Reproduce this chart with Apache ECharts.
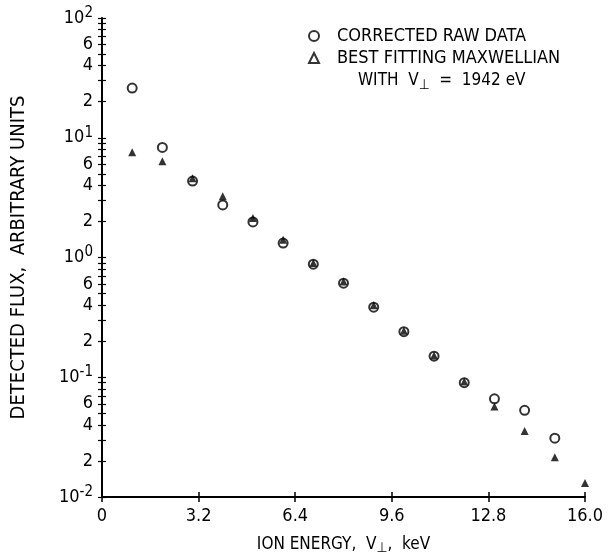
<!DOCTYPE html>
<html>
<head>
<meta charset="utf-8">
<script src="https://cdn.jsdelivr.net/npm/echarts@6/dist/echarts.min.js"></script>
<style>
  html, body { margin: 0; padding: 0; background: #fff; }
  #main { width: 609px; height: 557px; }
</style>
</head>
<body>
<div id="main"></div>
<script>
// ion energy (keV)
var energy = [1, 2, 3, 4, 5, 6, 7, 8, 9, 10, 11, 12, 13, 14, 15, 16];
// corrected raw data (circles), no point at 16 keV
var rawData = [26, 8.3, 4.35, 2.75, 1.98, 1.32, 0.88, 0.61, 0.385, 0.24, 0.15, 0.09, 0.066, 0.053, 0.031];
// best fitting maxwellian (triangles)
var fitData = [7.55, 6.35, 4.6, 3.24, 2.14, 1.41, 0.9, 0.63, 0.4, 0.245, 0.152, 0.092, 0.057, 0.0355, 0.0215, 0.0131];
// y tick positions and labelled ones
var yTicks = [];
[0.01, 0.1, 1, 10].forEach(function (d) {
    for (var k = 1; k < 10; k++) yTicks.push(+(d * k).toPrecision(3));
});
yTicks.push(100);
var yLabels = yTicks.filter(function (v) {
    var m = Math.round(v / Math.pow(10, Math.floor(Math.log10(v) + 1e-9)));
    return m === 1 || m === 2 || m === 4 || m === 6;
});

var font = "'DejaVu Sans Condensed', 'Liberation Sans Narrow', sans-serif";

function pair(arr) {
    return arr.map(function (v, i) { return [energy[i], v]; });
}

function yFmt(v) {
    var e = Math.floor(Math.log10(v) + 1e-9);
    var m = Math.round(v / Math.pow(10, e));
    if (m === 1) return '10{sup|' + e + '}';
    return '' + m;
}

var dom = document.getElementById('main');
var myChart = echarts.init(dom);
var option = {
    backgroundColor: '#fff',
    animation: false,
    textStyle: { fontFamily: font, color: '#000' },
    grid: { left: 102, right: 24, top: 18, bottom: 60, outerBoundsMode: 'none', containLabel: false },
    title: {
        text: 'WITH  V{sub|⊥}  =  1942 eV',
        left: 353,
        top: 64,
        textStyle: {
            fontFamily: font, fontSize: 17, fontWeight: 'normal', color: '#000',
            rich: { sub: { fontFamily: font, fontSize: 14, padding: [9, 0, 0, 0] } }
        }
    },
    legend: {
        orient: 'vertical',
        left: 303,
        top: 21,
        itemWidth: 10,
        itemHeight: 10,
        itemGap: 2,
        selectedMode: false,
        textStyle: { fontFamily: font, fontSize: 18, color: '#000', lineHeight: 20, padding: [0, 0, 0, 13] },
        data: [
            { name: 'CORRECTED RAW DATA', icon: 'emptyCircle', itemStyle: { color: '#000', borderColor: '#000', borderWidth: 1.5 } },
            { name: 'BEST FITTING MAXWELLIAN', icon: 'emptyTriangle', itemStyle: { color: '#000', borderColor: '#000', borderWidth: 1.5 } }
        ]
    },
    xAxis: [{
        type: 'value',
        min: 0,
        max: 16,
        interval: 3.2,
        name: 'ION ENERGY,  V{sub|⊥},  keV',
        nameLocation: 'middle',
        nameGap: 38,
        nameTextStyle: {
            fontFamily: font, fontSize: 17, color: '#000',
            rich: { sub: { fontFamily: font, fontSize: 14, padding: [6, 0, 0, 0] } }
        },
        splitLine: { show: false },
        axisLine: { lineStyle: { color: '#000', width: 2 } },
        axisTick: { length: 5, lineStyle: { color: '#000', width: 1.5 } },
        axisLabel: {
            fontFamily: font, fontSize: 18, color: '#000', margin: 10,
            formatter: function (v) { return v === 0 ? '0' : v.toFixed(1); }
        }
    }, {
        type: 'value',
        min: 0,
        max: 16,
        interval: 3.2,
        position: 'bottom',
        splitLine: { show: false },
        axisLine: { show: false },
        axisTick: { inside: true, length: 5, lineStyle: { color: '#000', width: 1.5 } },
        axisLabel: { show: false }
    }],
    yAxis: [{
        type: 'log',
        logBase: 10,
        min: 0.01,
        max: 100,
        name: 'DETECTED FLUX,  ARBITRARY UNITS',
        nameLocation: 'middle',
        nameGap: 73,
        nameTextStyle: { fontFamily: font, fontSize: 20, color: '#000' },
        splitLine: { show: false },
        axisLine: { lineStyle: { color: '#000', width: 2 } },
        axisTick: { length: 4, customValues: yTicks, lineStyle: { color: '#000', width: 1.2 } },
        axisLabel: {
            customValues: yLabels,
            fontFamily: font, fontSize: 18, color: '#000', margin: 9,
            formatter: yFmt,
            rich: { sup: { fontFamily: font, fontSize: 15, padding: [0, 0, 10, 0] } }
        }
    }, {
        type: 'log',
        logBase: 10,
        min: 0.01,
        max: 100,
        position: 'left',
        splitLine: { show: false },
        axisLine: { show: false },
        axisTick: { inside: true, length: 4, customValues: yTicks, lineStyle: { color: '#000', width: 1.2 } },
        axisLabel: { show: false }
    }],
    series: [{
        name: 'CORRECTED RAW DATA',
        type: 'scatter',
        symbol: 'emptyCircle',
        symbolSize: 9,
        itemStyle: { color: '#000', borderColor: '#000', borderWidth: 1.8 },
        data: pair(rawData)
    }, {
        name: 'BEST FITTING MAXWELLIAN',
        type: 'scatter',
        symbol: 'triangle',
        symbolSize: 8,
        itemStyle: { color: '#000' },
        data: pair(fitData)
    }]
};
myChart.setOption(option, true);
</script>
</body>
</html>
